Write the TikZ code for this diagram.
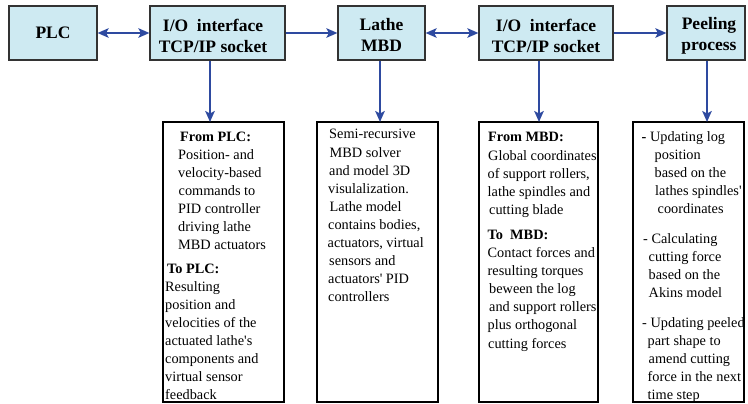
\documentclass[tikz,border=0pt]{standalone}
\usepackage{fontspec}
\setmainfont{Liberation Serif}
\usetikzlibrary{arrows.meta}

\definecolor{boxblue}{RGB}{206,234,242}
\definecolor{linkblue}{RGB}{46,74,160}
\newcommand{\bodyfont}{\fontsize{14.3}{18.05}\selectfont}
\newcommand{\listfont}{\fontsize{14.3}{18}\selectfont}
\newcommand{\headfont}{\fontsize{17.5}{21}\selectfont\bfseries}
\newcommand{\sq}{\textquotesingle}

\begin{document}
\begin{tikzpicture}[x=1pt,y=-1pt,
  topbox/.style={draw=black!80, line width=1.2pt, fill=boxblue,
                 minimum height=54pt, inner sep=0pt},
  outbox/.style={draw=black, line width=2.4pt, inner sep=0pt, outer sep=0pt,
                 anchor=north west, minimum height=280pt},
  head/.style={anchor=base, inner sep=0pt, font=\headfont},
  body/.style={anchor=base west, inner sep=0pt, font=\bodyfont},
  link/.style={draw=linkblue, line width=2pt},
  one/.style={link, -{Stealth[length=11pt,width=9.5pt,inset=2.5pt]}},
  both/.style={link, {Stealth[length=11pt,width=9.5pt,inset=2.5pt]}-{Stealth[length=11pt,width=9.5pt,inset=2.5pt]}}]

\useasboundingbox (0,0) rectangle (748,404);

% top row of process blocks
\node[topbox, minimum width=88pt]  (plc)   at (53,33)    {};
\node[topbox, minimum width=135pt] (io1)   at (217.5,33) {};
\node[topbox, minimum width=87pt]  (lathe) at (381.5,33) {};
\node[topbox, minimum width=134pt] (io2)   at (546,33)   {};
\node[topbox, minimum width=78pt]  (peel)  at (706,33)   {};

\node[head] (plcT)   at (53,38.3)  {PLC};
\node[head] (io1T)   at (213,31.5) {\begin{tabular}[t]{@{}c@{}}I/O\ \ interface\\TCP/IP socket\end{tabular}};
\node[head] (latheT) at (381.5,31) {\begin{tabular}[t]{@{}c@{}}Lathe\\MBD\end{tabular}};
\node[head] (io2T)   at (546,31.5) {\begin{tabular}[t]{@{}c@{}}I/O\ \ interface\\TCP/IP socket\end{tabular}};
\node[head] (peelT)  at (709,29.3) {\begin{tabular}[t]{@{}c@{}}Peeling\\process\end{tabular}};

% description boxes
\node[outbox, minimum width=121pt] (b1) at (163,122) {};
\node[outbox, minimum width=121pt] (b2) at (317,122) {};
\node[outbox, minimum width=119pt] (b3) at (479,122) {};
\node[outbox, minimum width=111pt] (b4) at (633,122) {};

% data flow between blocks
\draw[both] (plc.east)   -- (io1.west);
\draw[one]  (io1.east)   -- (lathe.west);
\draw[both] (lathe.east) -- (io2.west);
\draw[one]  (io2.east)   -- (peel.west);

\draw[one] ([xshift=-7.5pt]io1.south)   -- ([xshift=-7.5pt]io1.south |- b1.north);
\draw[one] ([xshift=-1.5pt]lathe.south) -- ([xshift=-1.5pt]lathe.south |- b2.north);
\draw[one] ([xshift=-7pt]io2.south)     -- ([xshift=-7pt]io2.south |- b3.north);
\draw[one] ([xshift=1pt]peel.south)     -- ([xshift=1pt]peel.south |- b4.north);

% texts of the description boxes
\node[body] (b1T) at (165,141.5) {\begin{minipage}[t]{118pt}\raggedright
\hspace*{15pt}\textbf{From PLC:}\\
\hspace*{13pt}Position- and\\
\hspace*{13pt}velocity-based\\
\hspace*{13.5pt}commands to\\
\hspace*{13pt}PID controller\\
\hspace*{13pt}driving lathe\\
\hspace*{13pt}MBD actuators\\[5.2pt]
\hspace*{2pt}\textbf{To PLC:}\\
Resulting\\
position and\\
velocities of the\\
actuated lathe\sq s\\
components and\\
virtual sensor\\
feedback
\end{minipage}};

\node[body] (b2T) at (327.5,139) {\begin{minipage}[t]{112pt}\raggedright
\hspace*{1.5pt}Semi-recursive\\
\hspace*{2pt}MBD solver\\
\hspace*{1.5pt}and model 3D\\
\hspace*{0.5pt}visulalization.\\
\hspace*{2pt}Lathe model\\
\hspace*{0.5pt}contains bodies,\\
actuators, virtual\\
\hspace*{1.5pt}sensors and\\
\hspace*{0.5pt}actuators\sq\ PID\\
\hspace*{0.5pt}controllers
\end{minipage}};

\node[body] (b3T) at (487.5,142) {\begin{minipage}[t]{115pt}\raggedright
\hspace*{0.5pt}\textbf{From MBD:}\\
\hspace*{0.5pt}Global coordinates\\
of support rollers,\\
lathe spindles and\\
\hspace*{1.5pt}cutting blade\\[7.5pt]
\textbf{To\ \ MBD:}\\
Contact forces and\\
resulting torques\\
\hspace*{1.5pt}beween the log\\
\hspace*{1.5pt}and support rollers\\
plus orthogonal\\
\hspace*{0.5pt}cutting forces
\end{minipage}};

\node[body, font=\listfont] (b4T) at (641.5,142) {\begin{minipage}[t]{110pt}\raggedright
\textbf{-} Updating log\\
\hspace*{13pt}position\\
\hspace*{13pt}based on the\\
\hspace*{13.5pt}lathes spindles\sq\\
\hspace*{16pt}coordinates\\[12pt]
\hspace*{1.5pt}- Calculating\\
\hspace*{7pt}cutting force\\
\hspace*{7pt}based on the\\
\hspace*{7pt}Akins model\\[11.5pt]
\hspace*{0.5pt}- Updating peeled\\
\hspace*{6pt}part shape to\\
\hspace*{7pt}amend cutting\\
\hspace*{6pt}force in the next\\
\hspace*{6pt}time step
\end{minipage}};

\end{tikzpicture}
\end{document}
